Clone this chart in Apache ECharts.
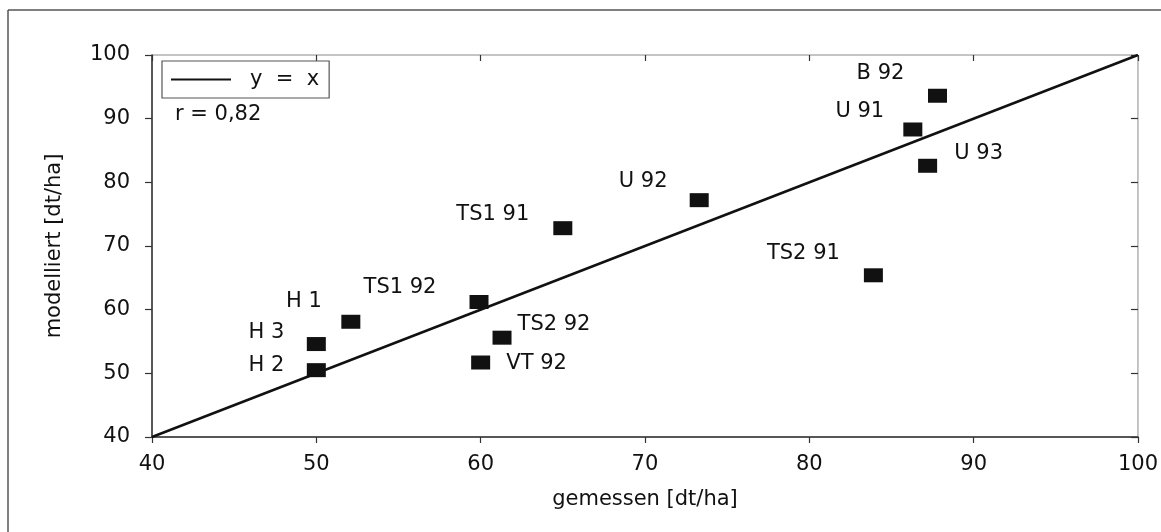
<!DOCTYPE html>
<html>
<head>
<meta charset="utf-8">
<script src="https://cdn.jsdelivr.net/npm/echarts@6/dist/echarts.min.js"></script>
<style>
html,body{margin:0;padding:0;background:#fff;}
#chart{width:1161px;height:532px;}
</style>
</head>
<body>
<div id="chart"></div>
<script>
// ---- data ----
var pointNames = ['B 92', 'U 91', 'U 93', 'U 92', 'TS1 91', 'TS1 92', 'TS2 92', 'VT 92', 'TS2 91', 'H 1', 'H 3', 'H 2'];
var measured   = [87.8, 86.3, 87.2, 73.3, 65.0, 59.9, 61.3, 60.0, 83.9, 52.1, 50.0, 50.0];
var modelled   = [93.6, 88.3, 82.6, 77.2, 72.8, 61.2, 55.6, 51.7, 65.4, 58.1, 54.6, 50.5];
var identityX  = [40, 100];
var identityY  = [40, 100];
var xTitle = 'gemessen [dt/ha]';
var yTitle = 'modelliert [dt/ha]';
var lineName = 'y = x';
var rText = 'r = 0,82';

// ---- label placement (layout only) ----
var labelOffsets = {
  'B 92': [-57, -22], 'U 91': [-53, -18], 'U 93': [51, -12], 'U 92': [-56, -19],
  'TS1 91': [-70, -14], 'TS1 92': [-79, -14], 'TS2 92': [52, -13], 'VT 92': [56, 1],
  'TS2 91': [-70, -22], 'H 1': [-47, -20], 'H 3': [-50, -11], 'H 2': [-50, -5]
};

var FONT = 'DejaVu Sans';
var TXT = '#111111';

var scatterData = pointNames.map(function (n, i) {
  return {
    name: n,
    value: [measured[i], modelled[i]],
    label: { offset: labelOffsets[n] }
  };
});
var lineData = identityX.map(function (x, i) { return [x, identityY[i]]; });

var chart = echarts.init(document.getElementById('chart'), null, { renderer: 'canvas' });

function axisBase(extra) {
  var a = {
    type: 'value', min: 40, max: 100, interval: 10,
    splitLine: { show: false }
  };
  for (var k in extra) a[k] = extra[k];
  return a;
}

chart.setOption({
  backgroundColor: '#ffffff',
  animation: false,
  grid: { left: 152, top: 55, width: 987, height: 382, show: true, borderColor: '#8a8a8a', borderWidth: 1, backgroundColor: 'transparent' },
  legend: {
    left: 162, top: 61,
    data: [{ name: lineName, icon: 'rect' }],
    itemWidth: 60, itemHeight: 2,
    padding: [8, 10, 8, 9],
    borderColor: '#555', borderWidth: 1.2,
    itemStyle: { color: '#111' },
    formatter: function () { return 'y  =  x'; },
    textStyle: { fontSize: 21, fontFamily: FONT, color: TXT, padding: [0, 0, 0, 14] }
  },
  xAxis: [
    axisBase({
      name: xTitle, nameLocation: 'middle', nameGap: 52,
      nameTextStyle: { fontSize: 21, fontFamily: FONT, color: TXT },
      axisLine: { show: true, lineStyle: { color: '#333', width: 1.5 } },
      axisTick: { show: true, inside: false, length: 6, lineStyle: { color: '#333', width: 1.2 } },
      axisLabel: { fontSize: 21, fontFamily: FONT, color: TXT, margin: 17 }
    }),
    axisBase({
      axisLine: { show: false },
      axisTick: { show: true, inside: true, length: 6, lineStyle: { color: '#333', width: 1.2 } },
      axisLabel: { show: false }
    })
  ],
  yAxis: [
    axisBase({
      name: yTitle, nameLocation: 'middle', nameGap: 87,
      nameTextStyle: { fontSize: 21, fontFamily: FONT, color: TXT },
      axisLine: { show: true, lineStyle: { color: '#333', width: 1.5 } },
      axisTick: { show: true, inside: false, length: 7, lineStyle: { color: '#333', width: 1.2 } },
      axisLabel: { fontSize: 21, fontFamily: FONT, color: TXT, margin: 22 }
    }),
    axisBase({
      axisLine: { show: false },
      axisTick: { show: true, inside: true, length: 7, lineStyle: { color: '#333', width: 1.2 } },
      axisLabel: { show: false }
    })
  ],
  graphic: [
    { type: 'line', shape: { x1: 8, y1: 10, x2: 1161, y2: 10 }, style: { stroke: '#555', lineWidth: 1.5 }, silent: true },
    { type: 'line', shape: { x1: 8, y1: 10, x2: 8, y2: 532 }, style: { stroke: '#555', lineWidth: 1.5 }, silent: true },
    { type: 'text', left: 175, top: 104, style: { text: rText, fontSize: 21, fontFamily: FONT, fill: TXT }, silent: true }
  ],
  series: [
    {
      name: lineName, type: 'line', xAxisIndex: 0, yAxisIndex: 0,
      data: lineData, symbol: 'none',
      lineStyle: { color: '#111', width: 2.5 },
      itemStyle: { color: '#111' },
      z: 3
    },
    {
      name: 'Punkte', type: 'scatter', xAxisIndex: 0, yAxisIndex: 0,
      data: scatterData,
      symbol: 'rect', symbolSize: [19, 14],
      itemStyle: { color: '#111', opacity: 1 },
      label: {
        show: true, position: 'inside', align: 'center', verticalAlign: 'middle',
        formatter: '{b}', fontSize: 21, fontFamily: FONT, color: TXT, opacity: 1
      },
      z: 4
    }
  ]
});
</script>
</body>
</html>
